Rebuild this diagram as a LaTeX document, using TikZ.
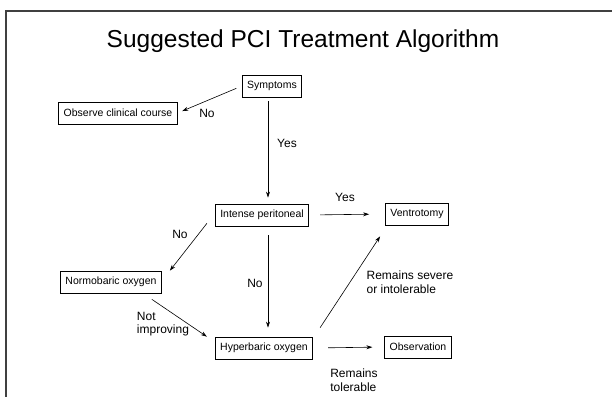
\documentclass[tikz,border=0pt]{standalone}
\usepackage{fontspec}
\setmainfont{Liberation Sans}
\usetikzlibrary{arrows.meta}
\begin{document}
\begin{tikzpicture}[x=1pt,y=-1pt,
    box/.style={draw,line width=0.7pt,inner xsep=5pt,minimum height=22pt,font=\fontsize{10.5}{12}\selectfont},
    lbl/.style={font=\fontsize{12}{13.5}\selectfont,align=left},
    arr/.style={-{Stealth[length=6pt,width=4pt]},line width=0.6pt}]
    \useasboundingbox (0,0) rectangle (612,397);
    \draw[line width=1.3pt,color=black!75] (612,11) -- (6,11) -- (6,397);
    \node[font=\fontsize{24.5}{28}\selectfont,anchor=base] (title) at (303,47) {Suggested PCI Treatment Algorithm};
    \node[box] (symptoms) at (272,86) {Symptoms};
    \node[box] (observe) at (118,113) {Observe clinical course};
    \node[box] (intense) at (262,215) {Intense peritoneal};
    \node[box] (ventro) at (417,214) {Ventrotomy};
    \node[box] (normo) at (111,282) {Normobaric oxygen};
    \node[box] (hyper) at (264,348) {Hyperbaric oxygen};
    \node[box] (observation) at (418,347) {Observation};
    \coordinate (spine) at (268,0);
    \draw[arr,shorten <=6pt,shorten >=5pt] (symptoms.west) -- (observe.east);
    \node[lbl] (no1) at (207,113) {No};
    \draw[arr,shorten <=4pt,shorten >=6pt] (symptoms.south -| spine) -- (intense.north -| spine);
    \node[lbl] (yes1) at (287,143) {Yes};
    \draw[arr,shorten <=11pt,shorten >=16pt] (intense.east) -- (ventro.west);
    \node[lbl] (yes2) at (345,197) {Yes};
    \draw[arr] ([xshift=-8pt,yshift=3pt]intense.south west) -- ([xshift=8pt]normo.north east);
    \node[lbl] (no2) at (180,234) {No};
    \draw[arr,shorten <=9pt,shorten >=9pt] (intense.south -| spine) -- (hyper.north -| spine);
    \node[lbl] (no3) at (255,283) {No};
    \draw[arr] ([xshift=-10pt,yshift=-6pt]normo.south east) -- ([xshift=-8pt]hyper.north west);
    \node[lbl] (notimp) at (163,324) {Not\\improving};
    \draw[arr] ([xshift=7pt,yshift=9pt]hyper.north east) -- ([xshift=-5pt,yshift=-11pt]ventro.south west);
    \node[lbl] (severe) at (410,282) {Remains severe\\or intolerable};
    \draw[arr,shorten <=15pt,shorten >=12pt] (hyper.east) -- (observation.west);
    \node[lbl] (tolerable) at (354,380) {Remains\\tolerable};
\end{tikzpicture}
\end{document}
